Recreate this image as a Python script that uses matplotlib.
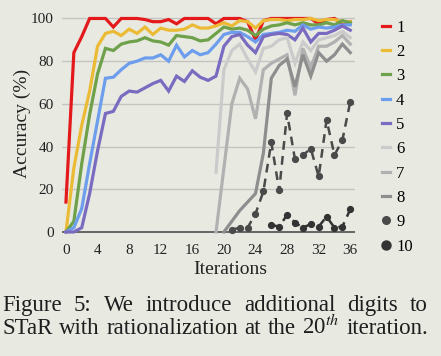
import numpy as np
import matplotlib.pyplot as plt
from matplotlib.lines import Line2D

plt.rcParams['font.family'] = ['Liberation Serif', 'DejaVu Serif']
plt.rcParams['mathtext.fontset'] = 'stix'

# accuracy per iteration
iters = np.arange(37)
acc1 = [14, 84, 91.5, 100, 100, 100, 96, 100, 100, 100,
        99.5, 98.5, 98.5, 99.5, 97.5, 100, 100, 100, 100, 97.5,
        100, 100, 100, 98.5, 90, 99, 100, 100, 100, 100,
        100, 100, 97.5, 99.5, 100, 97.5, 98.5]
acc2 = [0, 30, 50, 66, 87, 93, 94, 92, 95, 93,
        96, 92.5, 95.5, 94.5, 94.5, 95, 97, 95.5, 95.5, 96.5,
        98, 96.5, 99, 98.5, 95.5, 99, 99.5, 99.5, 99, 99.5,
        99.5, 100, 99, 99.5, 99.5, 98.5, 98.5]
acc3 = [0, 5, 32, 55, 74, 86, 85, 88, 89, 89.5,
        91, 89.5, 89, 87.5, 92, 91.5, 91, 89.5, 90, 93,
        96, 95, 95.5, 94.5, 92, 95, 96.5, 97, 98, 97,
        98, 97, 97, 98, 97, 99, 98]
acc4 = [0, 2, 11, 32, 52, 72, 72.5, 76, 79, 80,
        81.5, 81.5, 83, 80, 87.5, 82, 85, 83, 84, 88,
        92.5, 93.5, 93.5, 91.5, 89, 92.5, 93, 93.5, 94.5, 94,
        97, 95, 96, 95.5, 96, 97, 97]
acc5 = [0, 0, 2, 18, 38, 55.5, 56.5, 63.5, 66, 65.5,
        67.5, 69.5, 71, 66, 73, 70.5, 75.5, 72.5, 71, 73,
        87, 91.5, 92.5, 87.5, 84, 91.5, 92.5, 93, 92.5, 90,
        95.5, 89, 93, 93, 94.5, 96.5, 94.5]

# digits added at iteration ~20
iters6 = np.arange(19, 37)
acc6 = [28, 76, 85, 88, 81, 75, 86, 87, 90, 91, 79, 89, 85, 90, 91, 92, 94, 91]
iters7 = np.arange(19, 37)
acc7 = [0, 30, 60, 72, 67, 53, 76, 79, 81, 83, 64, 86, 77, 87, 87, 89, 92, 88]
iters8 = np.arange(20, 37)
acc8 = [0, 5, 10, 14, 18, 37, 72, 78, 81, 68, 83, 73, 84, 80, 83, 88, 84]
iters9 = np.arange(21, 37)
acc9 = [1, 2, 2, 8.5, 19, 42, 19.5, 55.5, 34, 36, 39, 26, 52.5, 36, 43, 61]
iters10 = np.arange(26, 37)
acc10 = [3.3, 2.5, 8, 4.4, 2, 3.7, 2.5, 7.2, 2, 2.5, 10.6]

labels = ['1', '2', '3', '4', '5', '6', '7', '8', '9', '10']
colors = ['#e3191c', '#ecbb35', '#6ea14a', '#6d9ded', '#7a6bc1',
          '#cbcbcb', '#b1b1b1', '#8e8e8e', '#4a4a4a', '#333333']

bg = '#e8eae2'
fig = plt.figure(figsize=(4.41, 3.56), dpi=100)
fig.patch.set_facecolor(bg)
ax = fig.add_axes([0.1406, 0.3424, 0.6644, 0.6177])
ax.set_facecolor(bg)

ax.set_xlim(-0.5, 36.6)
ax.set_ylim(-1, 102)
for sp in ax.spines.values():
    sp.set_visible(False)
for g in [20, 40, 60, 80, 100]:
    ax.axhline(g, color='#c3c4c0', lw=1.0, zorder=0)
ax.axhline(0, color='#5a5a5a', lw=1.3, zorder=0.5)

series = [(iters, acc1), (iters, acc2), (iters, acc3), (iters, acc4), (iters, acc5),
          (iters6, acc6), (iters7, acc7), (iters8, acc8)]
for (x, y), c in zip(series, colors[:8]):
    ax.plot(x, y, color=c, lw=2.3, solid_joinstyle='miter')

ax.plot(iters9, acc9, color=colors[8], lw=1.8, dashes=(3.5, 2.5),
        marker='o', markersize=4.2)
ax.plot(iters10, acc10, color=colors[9], lw=1.8, dashes=(3.5, 2.5),
        marker='o', markersize=4.2)

ax.set_xticks(range(0, 37, 4))
ax.set_yticks(range(0, 101, 20))
ax.tick_params(length=0, labelsize=11, colors='#222222')
ax.tick_params(axis='x', pad=7)
ax.tick_params(axis='y', pad=6)

fig.text(22 / 441, 1 - 123 / 356, 'Accuracy (%)', rotation=90, fontsize=14,
         ha='center', va='center', color='#222222')
fig.text(230 / 441, 1 - 270 / 356, 'Iterations', fontsize=14,
         ha='center', va='center', color='#222222')

handles = [Line2D([], [], color=c, lw=2.3) for c in colors[:8]]
handles.append(Line2D([], [], ls='none', marker='o', color=colors[8], markersize=5.5))
handles.append(Line2D([], [], ls='none', marker='o', color=colors[9], markersize=6.5))
fig.legend(handles, labels, loc='upper left', bbox_to_anchor=(0.866, 0.945),
           frameon=False, fontsize=12, handlelength=0.5, handletextpad=0.35,
           labelspacing=0.5, borderpad=0, borderaxespad=0)

# caption, justified like the paper
cap = ['Figure 5:  We introduce additional digits to',
       'STaR with rationalization at the 20$^{th}$ iteration.']
renderer = fig.canvas.get_renderer()


def justify(line, ypx, x0=2, x1=428, size=16.5):
    words = line.split()
    texts = [fig.text(0, 1 - ypx / 356, w, fontsize=size, va='baseline',
                      color='#1e1e1e') for w in words]
    widths = [t.get_window_extent(renderer).width for t in texts]
    gap = (x1 - x0 - sum(widths)) / (len(words) - 1)
    x = x0
    for t, w in zip(texts, widths):
        t.set_x(x / 441)
        x += w + gap


justify(cap[0], 311)
justify(cap[1], 334)

fig.savefig('out.png', dpi=100, facecolor=bg)
